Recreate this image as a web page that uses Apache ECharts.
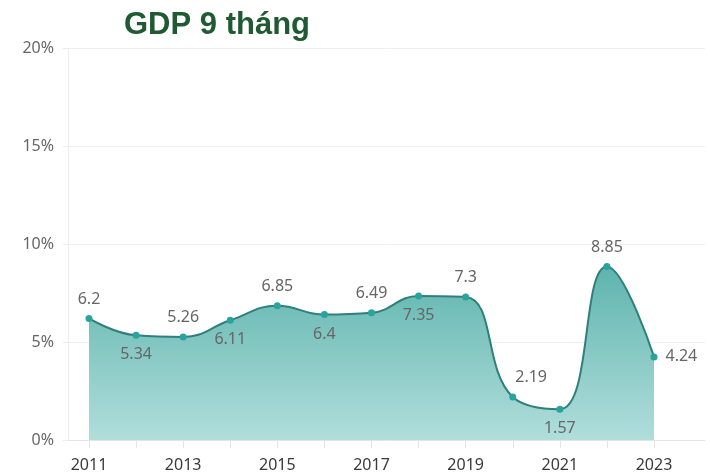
<!DOCTYPE html>
<html><head><meta charset="utf-8">
<script src="https://cdn.jsdelivr.net/npm/echarts@6/dist/echarts.min.js"></script>
<style>html,body{margin:0;padding:0;background:#fff}#c{width:710px;height:474px}</style>
</head><body><div id="c"></div>
<script>
const years = [2011,2012,2013,2014,2015,2016,2017,2018,2019,2020,2021,2022,2023];
const gdp = [6.2,5.34,5.26,6.11,6.85,6.4,6.49,7.35,7.3,2.19,1.57,8.85,4.24];
const xTickLabels = [2011,2013,2015,2017,2019,2021,2023];
const labelPos = ['top','bottom','top','bottom','top','bottom','top','bottom','top',[6,-24],'bottom','top','right'];

const chart = echarts.init(document.getElementById('c'));
const font = 'Noto Sans';
chart.setOption({
  animation:false,
  title:{text:'GDP 9 tháng', left:119, top:5, textStyle:{fontFamily:'Liberation Sans, Arial', fontWeight:'bold', fontSize:31, color:'#1f5a32'}},
  grid:{left:68, right:5, top:48, bottom:34},
  xAxis:{type:'value', min:2010.554, max:2024.083,
    axisLine:{show:true, lineStyle:{color:'#e4e4e4'}},
    axisTick:{show:true, customValues:years, length:8, lineStyle:{color:'#e4e4e4'}},
    axisLabel:{customValues:xTickLabels, fontFamily:font, fontSize:16, color:'#3a3a3a', margin:17, formatter:v=>String(v)},
    splitLine:{show:false}},
  yAxis:{type:'value', min:0, max:20, interval:5,
    axisLine:{show:true, lineStyle:{color:'#ececec'}},
    axisLabel:{fontFamily:font, fontSize:16, color:'#666', margin:14, formatter:'{value}%'},
    splitLine:{lineStyle:{color:'#efefef'}}},
  series:[{
    type:'line', smooth:0.45,
    data: years.map((y,i)=>({value:[y,gdp[i]], label:{position:labelPos[i]}})),
    symbol:'circle', symbolSize:7,
    itemStyle:{color:'#2aa39c'},
    lineStyle:{color:'#2f7f7b', width:2},
    areaStyle:{opacity:1, color:new echarts.graphic.LinearGradient(0,0,0,1,[{offset:0,color:'#5fb4ae'},{offset:1,color:'#b0dedb'}])},
    label:{show:true, fontFamily:font, fontSize:16, color:'#666', distance:8, formatter:p=>String(p.value[1])}
  }]
});
</script></body></html>
